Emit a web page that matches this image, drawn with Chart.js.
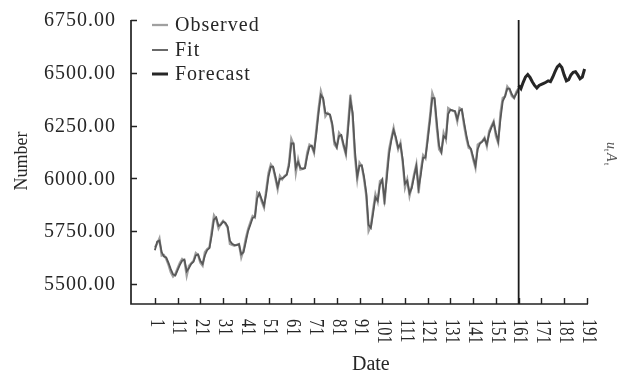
<!DOCTYPE html>
<html>
<head>
<meta charset="utf-8">
<script src="https://cdn.jsdelivr.net/npm/chart.js@4.4.0/dist/chart.umd.min.js"></script>
<style>
  html, body { margin: 0; padding: 0; background: #fff; }
  #wrap { width: 624px; height: 376px; }
</style>
</head>
<body>
<div id="wrap"><canvas id="c" width="624" height="376"></canvas></div>
<script>
// Date ticks along the bottom axis and value ticks on the left axis
const dateTicks = [1, 11, 21, 31, 41, 51, 61, 71, 81, 91, 101, 111, 121, 131, 141, 151, 161, 171, 181, 191];
const valueTicks = [5500, 5750, 6000, 6250, 6500, 6750];

// Observed series, dates 1..161
const observedStart = 1;
const observed = [
  5673, 5690, 5716, 5634, 5637, 5618, 5590, 5555, 5535, 5547,
  5575, 5600, 5618, 5610, 5539, 5586, 5598, 5610, 5646, 5637,
  5600, 5586, 5650, 5665, 5673, 5750, 5825, 5807, 5763, 5785,
  5799, 5785, 5767, 5689, 5685, 5681, 5685, 5689, 5626, 5660,
  5716, 5760, 5791, 5822, 5815, 5933, 5925, 5890, 5862, 5948,
  6027, 6066, 6050, 6000, 5948, 6011, 5995, 6011, 6019, 6074,
  6187, 6160, 6027, 6090, 6042, 6045, 6050, 6121, 6160, 6152,
  6121, 6231, 6330, 6412, 6373, 6294, 6310, 6300, 6250, 6160,
  6145, 6216, 6200, 6152, 6113, 6260, 6396, 6290, 6100, 5995,
  6074, 6058, 5995, 5915, 5751, 5775, 5854, 5925, 5890, 5987,
  5995, 5877, 6027, 6137, 6190, 6239, 6184, 6137, 6168, 6074,
  5956, 5995, 5917, 5964, 6019, 6066, 5930, 6040, 6110, 6095,
  6200, 6294, 6404, 6373, 6239, 6137, 6121, 6215, 6184, 6333,
  6325, 6320, 6317, 6270, 6333, 6325, 6250, 6190, 6145, 6137,
  6090, 6050, 6160, 6168, 6176, 6192, 6152, 6223, 6247, 6270,
  6200, 6168, 6310, 6381, 6388, 6435, 6420, 6390, 6380, 6410,
  6428
];

// Model fit over the same dates
const fittedStart = 1;
const fitted = [
  5660, 5700, 5705, 5650, 5630, 5625, 5600, 5570, 5545, 5540,
  5565, 5590, 5610, 5615, 5560, 5575, 5595, 5605, 5635, 5640,
  5610, 5595, 5635, 5660, 5670, 5730, 5805, 5815, 5775, 5780,
  5795, 5790, 5772, 5705, 5690, 5684, 5684, 5688, 5640, 5650,
  5700, 5750, 5780, 5812, 5818, 5905, 5930, 5900, 5870, 5930,
  6010, 6055, 6055, 6010, 5960, 5998, 6000, 6008, 6017, 6060,
  6165, 6165, 6050, 6078, 6050, 6045, 6048, 6105, 6150, 6155,
  6128, 6210, 6310, 6395, 6380, 6310, 6305, 6302, 6260, 6175,
  6148, 6200, 6205, 6160, 6120, 6235, 6370, 6310, 6130, 6010,
  6060, 6062, 6008, 5930, 5780, 5765, 5835, 5910, 5895, 5970,
  5993, 5900, 6000, 6115, 6180, 6228, 6195, 6145, 6162, 6090,
  5975, 5988, 5930, 5955, 6008, 6058, 5955, 6020, 6098, 6098,
  6180, 6275, 6380, 6380, 6265, 6155, 6125, 6200, 6190, 6305,
  6325, 6322, 6318, 6280, 6320, 6327, 6265, 6205, 6155, 6140,
  6100, 6060, 6138, 6165, 6174, 6188, 6160, 6210, 6240, 6265,
  6215, 6175, 6280, 6365, 6388, 6425, 6425, 6398, 6382, 6402,
  6422
];

// Forecast, dates 161..190
const forecastStart = 161;
const forecast = [
  6440, 6425, 6455, 6480, 6492, 6478, 6458, 6440, 6428, 6440,
  6445, 6450, 6455, 6462, 6458, 6480, 6505, 6528, 6538, 6525,
  6490, 6462, 6468, 6490, 6502, 6505, 6490, 6472, 6480, 6518
];

// Date where the forecast period begins
const splitDate = 161;

const toPoints = (values, start) => values.map((v, k) => ({ x: start + k, y: v }));

const TEXT = '#262626';
const SERIF = '"Liberation Serif", "DejaVu Serif", serif';

// Axes, inward ticks, rotated date labels, legend and side label
const framePlugin = {
  id: 'frame',
  afterDatasetsDraw(chart) {
    const { ctx, chartArea: a, scales: { x, y } } = chart;
    ctx.save();

    // forecast boundary
    const sx = x.getPixelForValue(splitDate);
    ctx.strokeStyle = '#1a1a1a';
    ctx.lineWidth = 1.8;
    ctx.beginPath();
    ctx.moveTo(sx, a.top);
    ctx.lineTo(sx, a.bottom);
    ctx.stroke();

    // axis lines
    ctx.strokeStyle = '#222';
    ctx.lineWidth = 1.7;
    ctx.beginPath();
    ctx.moveTo(a.left, a.top);
    ctx.lineTo(a.left, a.bottom);
    ctx.lineTo(a.right, a.bottom);
    ctx.stroke();

    // inward tick marks
    ctx.lineWidth = 1.4;
    ctx.beginPath();
    valueTicks.forEach(v => {
      const py = Math.round(y.getPixelForValue(v)) + 0.5;
      ctx.moveTo(a.left, py);
      ctx.lineTo(a.left + 6, py);
    });
    dateTicks.forEach(d => {
      const px = Math.round(x.getPixelForValue(d)) + 0.5;
      ctx.moveTo(px, a.bottom);
      ctx.lineTo(px, a.bottom - 6);
    });
    ctx.stroke();

    ctx.fillStyle = TEXT;

    // value labels
    ctx.font = '20px ' + SERIF;
    ctx.letterSpacing = '1px';
    ctx.textAlign = 'right';
    ctx.textBaseline = 'middle';
    valueTicks.forEach(v => {
      ctx.fillText(v.toFixed(2), a.left - 15, y.getPixelForValue(v) + 1);
    });

    // date labels, turned clockwise
    ctx.letterSpacing = '0px';
    ctx.textAlign = 'left';
    dateTicks.forEach(d => {
      const px = x.getPixelForValue(d);
      ctx.save();
      ctx.translate(px + 1, a.bottom + 15);
      ctx.rotate(Math.PI / 2);
      ctx.scale(0.82, 1);
      ctx.fillText(String(d), 0, 0);
      ctx.restore();
    });

    // axis titles
    ctx.textAlign = 'center';
    ctx.font = '20px ' + SERIF;
    const mid = (x.getPixelForValue(dateTicks[0]) + x.getPixelForValue(dateTicks[dateTicks.length - 1])) / 2;
    ctx.fillText('Date', mid, 365);
    ctx.save();
    ctx.translate(22, 161);
    ctx.rotate(-Math.PI / 2);
    ctx.font = '18px ' + SERIF;
    ctx.fillText('Number', 0, 0);
    ctx.restore();

    // side label
    ctx.save();
    ctx.translate(607, 142);
    ctx.rotate(Math.PI / 2);
    ctx.fillStyle = '#555';
    ctx.textAlign = 'left';
    ctx.textBaseline = 'alphabetic';
    ctx.font = 'italic 14px ' + SERIF;
    ctx.fillText('u', 0, 0);
    ctx.font = '8px ' + SERIF;
    ctx.fillText('t', 7, 3);
    ctx.font = 'italic 14px ' + SERIF;
    ctx.fillText('A', 11, 0);
    ctx.font = '8px ' + SERIF;
    ctx.fillText('t', 21, 3);
    ctx.restore();

    // legend
    const rows = [25, 50, 74];
    ctx.font = '20px ' + SERIF;
    ctx.letterSpacing = '1px';
    ctx.textAlign = 'left';
    ctx.textBaseline = 'middle';
    chart.data.datasets.forEach((ds, i) => {
      const ry = rows[i];
      ctx.strokeStyle = ds.borderColor;
      ctx.lineWidth = ds.borderWidth;
      ctx.beginPath();
      ctx.moveTo(152, ry);
      ctx.lineTo(168, ry);
      ctx.stroke();
      ctx.fillStyle = TEXT;
      ctx.fillText(ds.label, 175, ry + 1);
    });

    ctx.restore();
  }
};

new Chart(document.getElementById('c'), {
  type: 'line',
  data: {
    datasets: [
      { label: 'Observed', data: toPoints(observed, observedStart), borderColor: '#a0a0a0', borderWidth: 2.3, order: 2 },
      { label: 'Fit', data: toPoints(fitted, fittedStart), borderColor: '#585858', borderWidth: 1.8, order: 1 },
      { label: 'Forecast', data: toPoints(forecast, forecastStart), borderColor: '#262626', borderWidth: 3, order: 0 }
    ]
  },
  options: {
    responsive: false,
    animation: false,
    events: [],
    layout: { padding: { top: 20, right: 36, left: 0, bottom: 0 } },
    elements: { point: { radius: 0 }, line: { tension: 0 } },
    plugins: { legend: { display: false }, tooltip: { enabled: false } },
    scales: {
      x: {
        type: 'linear',
        min: -9.5,
        max: 191.5,
        grid: { display: false },
        border: { display: false },
        ticks: { display: false },
        afterFit: s => { s.height = 72; }
      },
      y: {
        type: 'linear',
        min: 5405,
        max: 6750,
        grid: { display: false },
        border: { display: false },
        ticks: { display: false },
        afterFit: s => { s.width = 131; }
      }
    }
  },
  plugins: [framePlugin]
});
</script>
</body>
</html>
